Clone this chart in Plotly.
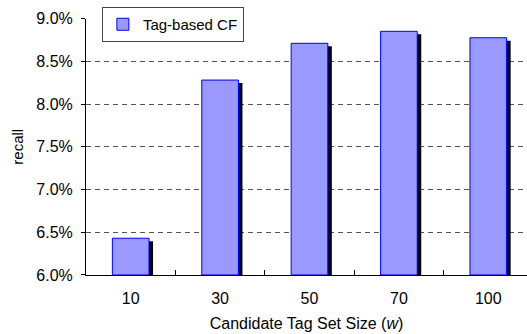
import plotly.graph_objects as go

categories = ["10", "30", "50", "70", "100"]
recall = [0.0643, 0.0828, 0.0871, 0.0885, 0.08775]
series_name = "Tag-based CF"
y_ticks = [0.060, 0.065, 0.070, 0.075, 0.080, 0.085, 0.090]

bar_w = 0.41
shadow_dx = 0.045
shadow_dy = 0.00035
y0 = 0.060

fig = go.Figure()
fig.add_trace(go.Bar(
    x=categories, y=[v - shadow_dy - y0 for v in recall], base=y0,
    width=bar_w, offset=-bar_w / 2 + shadow_dx,
    marker=dict(color="black", line=dict(width=0)),
    showlegend=False, hoverinfo="skip"))
fig.add_trace(go.Bar(
    x=categories, y=[v - y0 for v in recall], base=y0,
    width=bar_w, offset=-bar_w / 2, name=series_name,
    marker=dict(color="#9999FF", line=dict(color="#0000FF", width=1))))

fig.update_layout(
    width=527, height=334,
    margin=dict(l=86, r=0, t=0, b=59.3, autoexpand=False),
    paper_bgcolor="white", plot_bgcolor="white",
    barmode="overlay",
    font=dict(family="Liberation Sans, Arial", size=16, color="black"),
    showlegend=True,
    legend=dict(x=0.036, y=0.9745, xanchor="left", yanchor="top",
                bgcolor="white", bordercolor="#444", borderwidth=1,
                font=dict(size=15), itemwidth=30),
    xaxis=dict(type="category", range=[-0.5, 4.433], automargin=False,
               showline=True, linecolor="black", linewidth=1,
               ticks="inside", tickson="boundaries", ticklen=5, tickcolor="black",
               showgrid=False, tickfont=dict(size=16), ticklabelstandoff=9,
               title=dict(text="Candidate Tag Set Size (<i>w</i>)", standoff=11,
                          font=dict(size=16))),
    yaxis=dict(range=[y0, 0.090], domain=[0, 0.9327], automargin=False,
               tickvals=y_ticks, tickformat=".1%",
               showline=True, linecolor="black", linewidth=1,
               ticks="outside", ticklen=4, tickcolor="black",
               ticklabelstandoff=5, tickfont=dict(size=16),
               showgrid=True, gridcolor="#555", gridwidth=1, griddash="5px,4px",
               zeroline=False,
               title=dict(text="recall", standoff=9, font=dict(size=15))),
)

fig.write_html("out.html", config={"displayModeBar": False},
               post_script="document.body.style.margin='0';document.body.style.overflow='hidden';")
